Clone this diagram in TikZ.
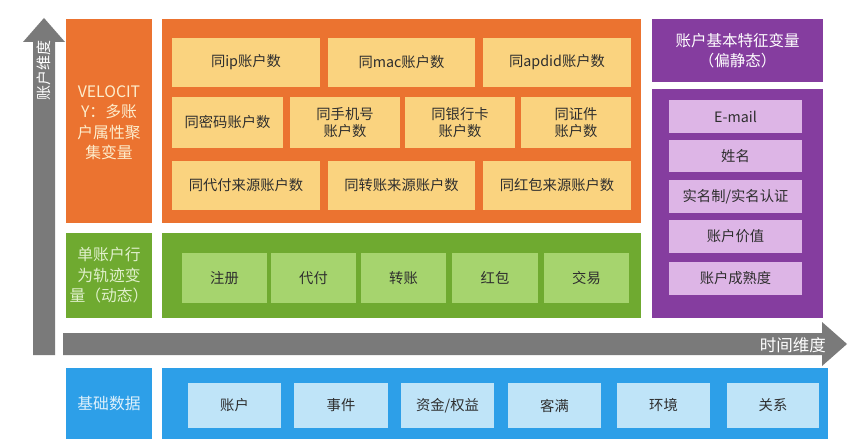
\documentclass[tikz,border=0pt]{standalone}
\usepackage{fontspec}
\setmainfont{Noto Sans CJK SC}
\definecolor{orgD}{HTML}{EB7330}
\definecolor{orgL}{HTML}{FAD37F}
\definecolor{grnD}{HTML}{6FAA30}
\definecolor{grnL}{HTML}{A6D46E}
\definecolor{purD}{HTML}{853D9F}
\definecolor{purL}{HTML}{DDB5E6}
\definecolor{bluD}{HTML}{2D9FE8}
\definecolor{bluL}{HTML}{BFE4F8}
\definecolor{arrG}{HTML}{7A7A7A}
\definecolor{txtD}{HTML}{2E2E2E}
\tikzset{
  base/.style={inner sep=0pt, outer sep=0pt, align=center, draw=none},
  cellfont/.style={font=\fontsize{14.3}{17}\selectfont},
  orgbig/.style={base, fill=orgD},
  orgcell/.style={base, fill=orgL, text=txtD, cellfont},
  grnbig/.style={base, fill=grnD},
  grncell/.style={base, fill=grnL, text=txtD, cellfont},
  purbig/.style={base, fill=purD},
  purcell/.style={base, fill=purL, text=txtD, cellfont},
  blubig/.style={base, fill=bluD},
  blucell/.style={base, fill=bluL, text=txtD, cellfont},
  sidelabel/.style={font=\fontsize{15.8}{20.5}\selectfont},
  arrowbody/.style={fill=arrG, draw=none},
}
\newcommand\mybox[7]{\node[#1, minimum width={(#5-#3)*1pt}, minimum height={(#6-#4)*1pt}] (#2) at ({(#3+#5)/2},{(#4+#6)/2}) {#7};}
\begin{document}
\begin{tikzpicture}[x=1pt,y=-1pt]
\useasboundingbox[fill=white] (0,0) rectangle (866,446);

% axes arrows
\coordinate (vtop) at (44,18);
\fill[arrowbody] (33,355) -- (33,42) -- (23,42) -- (vtop) -- (65,42) -- (55,42) -- (55,355) -- cycle;
\node[rotate=90, text=white, font=\fontsize{15}{17}\selectfont, inner sep=0pt] (vlab) at (44,71) {账户维度};

\coordinate (htip) at (847,344);
\fill[arrowbody] (63,333) -- (822,333) -- (822,322) -- (htip) -- (822,366) -- (822,355) -- (63,355) -- cycle;
\node[anchor=east, text=white, font=\fontsize{16.5}{18}\selectfont, inner sep=0pt] (hlab) at (826,345) {时间维度};

% orange section
\mybox{orgbig}{velL}{66}{19}{152}{223}{}
\node[sidelabel, text=orgL!40!white, align=center] (velT) at (109,123) {VELOCIT\\Y：多账\\户属性聚\\集变量};
\mybox{orgbig}{velB}{162}{19}{641}{223}{}
\mybox{orgcell}{o1}{172}{38}{320}{87}{同ip账户数}
\mybox{orgcell}{o2}{328}{38}{475}{87}{同mac账户数}
\mybox{orgcell}{o3}{483}{38}{631}{87}{同apdid账户数}
\mybox{orgcell}{o4}{172}{97}{283}{148}{同密码账户数}
\mybox{orgcell}{o5}{290}{97}{400}{148}{同手机号\\账户数}
\mybox{orgcell}{o6}{405}{97}{515}{148}{同银行卡\\账户数}
\mybox{orgcell}{o7}{521}{97}{631}{148}{同证件\\账户数}
\mybox{orgcell}{o8}{172}{161}{320}{210}{同代付来源账户数}
\mybox{orgcell}{o9}{328}{161}{475}{210}{同转账来源账户数}
\mybox{orgcell}{o10}{483}{161}{631}{210}{同红包来源账户数}

% green section
\mybox{grnbig}{grnL}{66}{233}{152}{318}{}
\node[sidelabel, text=grnL!35!white, align=center] (grnT) at (grnL) {单账户行\\为轨迹变\\量（动态）};
\mybox{grnbig}{grnB}{162}{233}{641}{318}{}
\mybox{grncell}{g1}{182}{253}{267}{303}{注册}
\mybox{grncell}{g2}{271}{253}{356}{303}{代付}
\mybox{grncell}{g3}{361}{253}{446}{303}{转账}
\mybox{grncell}{g4}{452}{253}{538}{303}{红包}
\mybox{grncell}{g5}{544}{253}{629}{303}{交易}

% purple section
\mybox{purbig}{purH}{652}{19}{823}{82}{}
\node[text=white, font=\fontsize{15.5}{20}\selectfont, align=center] (purT) at (purH) {账户基本特征变量\\（偏静态）};
\mybox{purbig}{purB}{652}{89}{823}{318}{}
\mybox{purcell}{p1}{669}{100}{802}{133}{E-mail}
\mybox{purcell}{p2}{669}{140}{802}{172}{姓名}
\mybox{purcell}{p3}{669}{180}{802}{213}{实名制/实名认证}
\mybox{purcell}{p4}{669}{220}{802}{253}{账户价值}
\mybox{purcell}{p5}{669}{262}{802}{295}{账户成熟度}

% blue section
\mybox{blubig}{bluL}{66}{368}{152}{439}{}
\node[sidelabel, text=bluL!50!white] (bluT) at (bluL) {基础数据};
\mybox{blubig}{bluB}{162}{368}{828}{439}{}
\mybox{blucell}{b1}{188}{383}{281}{428}{账户}
\mybox{blucell}{b2}{294}{383}{388}{428}{事件}
\mybox{blucell}{b3}{401}{383}{494}{428}{资金/权益}
\mybox{blucell}{b4}{508}{383}{601}{428}{客满}
\mybox{blucell}{b5}{617}{383}{710}{428}{环境}
\mybox{blucell}{b6}{727}{383}{819}{428}{关系}
\end{tikzpicture}
\end{document}
